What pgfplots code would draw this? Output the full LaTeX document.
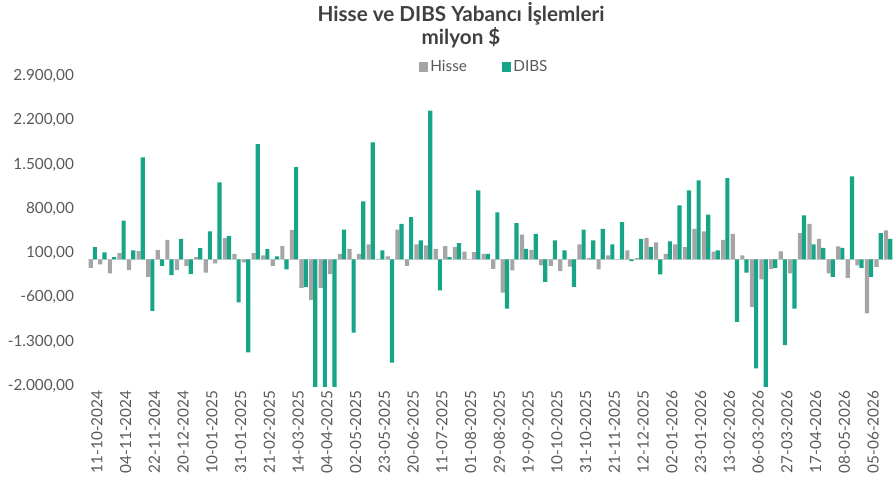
\documentclass[border=0pt]{standalone}
\usepackage{pgfplots}
\pgfplotsset{compat=1.18}
\usepackage{pgfplotstable}
\usepackage{fontspec}
\setmainfont{Lato}
\definecolor{hisse}{HTML}{A5A5A5}
\definecolor{dibs}{HTML}{17A589}
\definecolor{txt}{HTML}{595959}
\definecolor{ttl}{HTML}{404040}

% weekly foreign flows, million USD (clipped bars read as -2100)
\pgfplotstableread{
x hisse dibs
0 -132 195
1 -79 111
2 -221 37
3 100 614
4 -169 142
5 132 1613
6 -274 -812
7 153 -100
8 311 -248
9 -169 327
10 -100 -232
11 37 179
12 -208 443
13 -63 1217
14 340 374
15 90 -680
16 -47 -1470
17 100 1823
18 66 163
19 -102 47
20 211 -155
21 469 1458
22 -448 -432
23 -643 -2100
24 -448 -2100
25 -232 -2100
26 90 470
27 166 -1157
28 90 920
29 237 1850
30 10 142
31 50 -1630
32 470 564
33 -102 669
34 237 300
35 221 2353
36 166 -490
37 211 37
38 195 258
39 126 0
40 116 1091
41 90 90
42 -148 743
43 -525 -778
44 -174 574
45 393 166
46 153 406
47 -92 -353
48 -102 300
49 -184 142
50 -113 -432
51 237 472
52 21 300
53 -158 482
54 63 237
55 5 590
56 142 -26
57 21 324
58 340 195
59 272 -237
60 90 288
61 237 854
62 195 1091
63 482 1249
64 443 708
65 126 142
66 311 1286
67 406 -985
68 63 -208
69 -748 -1723
70 -313 -2100
71 -150 -132
72 129 -1354
73 -221 -775
74 416 696
75 564 237
76 324 182
77 -221 -274
78 208 182
79 -290 1312
80 -92 -132
81 -851 -274
82 -116 416
83 458 324
}\flows

\begin{document}
\begin{tikzpicture}
\begin{axis}[
    at={(0,0)}, anchor=south west,
    scale only axis, width=603.75pt, height=232.5pt,
    xmin=-0.5, xmax=83.5, ymin=-2000, ymax=2900,
    ybar=0pt, bar width=3.15pt,
    ytick={-2000,-1300,-600,100,800,1500,2200,2900},
    /pgf/number format/fixed, /pgf/number format/fixed zerofill,
    /pgf/number format/precision=2, /pgf/number format/use comma,
    /pgf/number format/1000 sep={.}, /pgf/number format/assume math mode=true,
    yticklabel style={font=\fontsize{11.5}{13}\selectfont, text=txt, xshift=-7pt},
    xtick={0,3,...,81},
    xticklabels={11-10-2024,04-11-2024,22-11-2024,20-12-2024,10-01-2025,31-01-2025,
        21-02-2025,14-03-2025,04-04-2025,02-05-2025,23-05-2025,20-06-2025,11-07-2025,
        01-08-2025,29-08-2025,19-09-2025,10-10-2025,31-10-2025,21-11-2025,12-12-2025,
        02-01-2026,23-01-2026,13-02-2026,06-03-2026,27-03-2026,17-04-2026,08-05-2026,
        05-06-2026},
    xticklabel style={rotate=90, anchor=east, font=\fontsize{11.5}{13}\selectfont, text=txt, yshift=-3pt},
    axis line style={draw=none},
    major tick length=0pt,
    extra y ticks={0}, extra y tick labels={},
    extra y tick style={ymajorgrids=true, major grid style={draw=black!15, line width=1.1pt}},
    legend columns=2,
    legend style={at={(0.4925,1.029)}, anchor=center, draw=none, fill=none,
        font=\fontsize{11.5}{13}\selectfont, text=txt,
        /tikz/every even column/.append style={column sep=24pt}},
    legend image code/.code={\fill[#1] (0pt,-3.4pt) rectangle (6.75pt,3.4pt);},
]
\addplot[fill=hisse, draw=none] table[x=x, y=hisse] {\flows};
\addplot[fill=dibs, draw=none] table[x=x, y=dibs] {\flows};
\legend{Hisse, DIBS}
\end{axis}
\node[font=\fontsize{15.5}{17}\selectfont\bfseries, text=ttl] at (279.75pt,279.5pt) {Hisse ve DIBS Yabancı İşlemleri};
\node[font=\fontsize{15.5}{17}\selectfont\bfseries, text=ttl] at (279.75pt,261pt) {milyon \$};
\pgfresetboundingbox
\useasboundingbox (-66pt,-72.75pt) rectangle (603.75pt,289.5pt);
\end{tikzpicture}
\end{document}
